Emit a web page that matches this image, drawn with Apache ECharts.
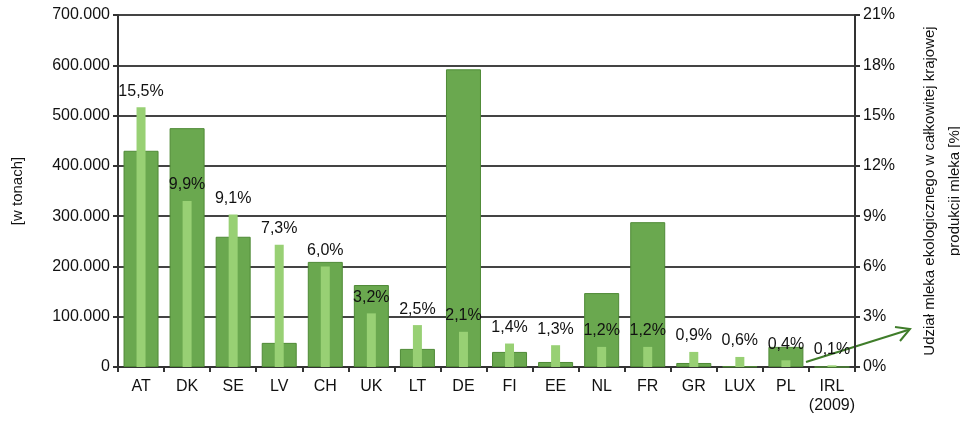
<!DOCTYPE html>
<html>
<head>
<meta charset="UTF-8">
<script src="https://cdn.jsdelivr.net/npm/echarts@6/dist/echarts.min.js"></script>
<style>html,body{margin:0;background:#fff}#c{width:960px;height:422px}</style>
</head>
<body>
<div id="c"></div>
<script>
var countries = ['AT', 'DK', 'SE', 'LV', 'CH', 'UK', 'LT', 'DE', 'FI', 'EE', 'NL', 'FR', 'GR', 'LUX', 'PL', 'IRL\n(2009)'];
var tonnes = [430000, 475000, 259000, 48000, 209000, 163000, 36000, 592000, 30000, 10000, 147000, 288000, 8000, 1000, 40000, 0];
var share = [15.5, 9.9, 9.1, 7.3, 6.0, 3.2, 2.5, 2.1, 1.4, 1.3, 1.2, 1.2, 0.9, 0.6, 0.4, 0.1];

var chart = echarts.init(document.getElementById('c'));
var txt = {fontFamily: 'Liberation Sans', color: '#111', fontSize: 16};
option = {
    animation: false,
    textStyle: {fontFamily: 'Liberation Sans'},
    grid: {left: 118, right: 105, top: 15, bottom: 55, outerBoundsMode: 'none', containLabel: false},
    xAxis: [
        {
            type: 'category', data: countries,
            axisLine: {lineStyle: {color: '#333', width: 2}},
            axisTick: {show: true, length: 5, lineStyle: {color: '#333', width: 2}},
            axisLabel: Object.assign({margin: 10, lineHeight: 19, interval: 0}, txt)
        },
        {type: 'category', data: countries, show: false}
    ],
    yAxis: [
        {
            type: 'value', min: 0, max: 700000, interval: 100000,
            name: 'Produkcja mleka w gospodarstwach ekologicznych\n[w tonach]',
            nameLocation: 'middle', nameGap: 88, nameRotate: 90,
            nameTextStyle: {fontFamily: 'Liberation Sans', color: '#111', fontSize: 15, lineHeight: 25},
            axisLine: {show: true, lineStyle: {color: '#333', width: 2}},
            axisTick: {show: true, length: 5, lineStyle: {color: '#333', width: 2}},
            splitLine: {lineStyle: {color: '#444', width: 2}},
            axisLabel: Object.assign({
                formatter: function (v) { return v === 0 ? '0' : (v / 1000) + '.000'; }
            }, txt)
        },
        {
            type: 'value', min: 0, max: 21, interval: 3,
            name: 'Udział mleka ekologicznego w całkowitej krajowej\nprodukcji mleka [%]',
            nameLocation: 'middle', nameGap: 62, nameRotate: 90,
            nameTextStyle: {fontFamily: 'Liberation Sans', color: '#111', fontSize: 15, lineHeight: 25},
            axisLine: {show: true, lineStyle: {color: '#333', width: 2}},
            axisTick: {show: true, length: 5, lineStyle: {color: '#333', width: 2}},
            splitLine: {show: false},
            axisLabel: Object.assign({formatter: '{value}%'}, txt)
        }
    ],
    series: [
        {
            type: 'bar', data: tonnes, xAxisIndex: 0, yAxisIndex: 0, barWidth: 35,
            itemStyle: {color: '#6aa84f', borderColor: '#4f8a36', borderWidth: 1}
        },
        {
            type: 'bar', data: share, xAxisIndex: 1, yAxisIndex: 1, barWidth: 9,
            itemStyle: {color: '#98d074'},
            label: {
                show: true, position: 'top', distance: 8,
                fontFamily: 'Liberation Sans', fontSize: 16, color: '#111',
                formatter: function (p) { return p.value.toFixed(1).replace('.', ',') + '%'; }
            }
        }
    ],
    graphic: [
        {type: 'line', shape: {x1: 806, y1: 362, x2: 908, y2: 330}, style: {stroke: '#3f7d2a', lineWidth: 2}},
        {type: 'polyline', shape: {points: [[895, 327], [910, 329], [900, 341]]}, style: {stroke: '#3f7d2a', lineWidth: 2, fill: null}}
    ]
};
chart.setOption(option);
</script>
</body>
</html>
